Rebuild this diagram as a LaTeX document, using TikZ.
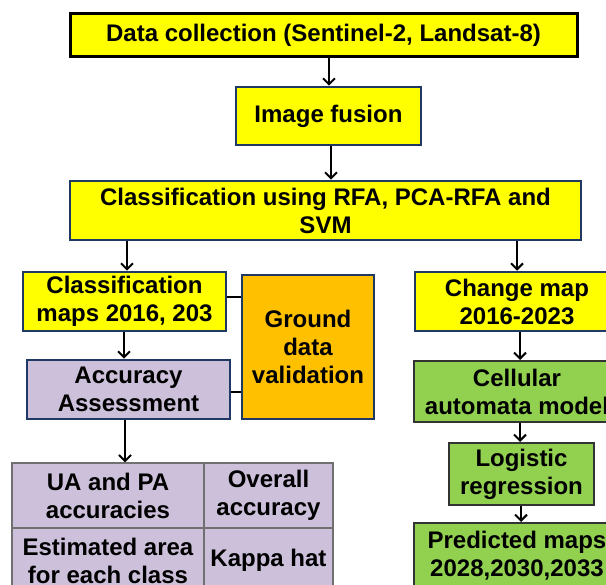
\documentclass[tikz,border=0pt]{standalone}
\usepackage{fontspec}
\setmainfont{Liberation Sans}
\usetikzlibrary{arrows.meta}

\definecolor{boxyellow}{HTML}{FFFF00}
\definecolor{boxnavy}{HTML}{1F3864}
\definecolor{boxorange}{HTML}{FFC000}
\definecolor{boxlilac}{HTML}{CCC0DA}
\definecolor{boxgreen}{HTML}{92D050}
\definecolor{cellgray}{HTML}{707070}

\tikzset{
  txt/.style={align=center, inner sep=0pt, font=\bfseries\fontsize{24}{28}\selectfont},
  ybox/.style={txt, draw=boxnavy, line width=2.5pt, fill=boxyellow},
  gbox/.style={txt, draw=black!80, line width=2pt, fill=boxgreen},
  cellbox/.style={txt, draw=cellgray, line width=1.2pt, fill=boxlilac},
  arr/.style={line width=2pt, -{Straight Barb[length=6pt,width=12pt,line width=2pt]}},
  link/.style={line width=2pt}
}

\begin{document}
\begin{tikzpicture}[x=1pt, y=-1pt]
    \clip (0,0) rectangle (606,585);
    \fill[white] (0,0) rectangle (606,585);

    % Top chain
    \node[ybox, draw=black, line width=3pt, minimum width=507pt, minimum height=43pt] (data) at (323.5,35.5) {Data collection (Sentinel-2, Landsat-8)};
    \node[ybox, minimum width=185pt, minimum height=58pt] (fusion) at (328.5,116) {Image fusion};
    \node[ybox, minimum width=511pt, minimum height=59pt] (classif) at (325.5,210.5) {Classification using RFA, PCA-RFA and\\SVM};

    % Left branch
    \node[ybox, minimum width=203pt, minimum height=59pt] (maps) at (124.5,301.5) {Classification\\maps 2016, 203};
    \node[ybox, fill=boxorange, minimum width=132pt, minimum height=144pt] (ground) at (308,347) {Ground\\data\\validation};
    \node[ybox, fill=boxlilac, minimum width=203pt, minimum height=59pt] (accur) at (128.5,389.5) {Accuracy\\Assessment};

    % Accuracy table
    \node[cellbox, minimum width=192pt, minimum height=65pt] (uapa) at (108,495.5) {UA and PA\\accuracies};
    \node[cellbox, minimum width=129pt, minimum height=65pt] (overall) at (268.5,495.5) {Overall\\accuracy};
    \node[cellbox, minimum width=192pt, minimum height=65pt] (area) at (108,560.5) {Estimated area\\for each class};
    \node[cellbox, minimum width=129pt, minimum height=65pt] (kappa) at (268.5,560.5) {Kappa hat};

    % Right branch
    \node[ybox, minimum width=204pt, minimum height=59pt] (change) at (517,301.5) {Change map\\2016-2023};
    \node[gbox, minimum width=206pt, minimum height=61pt] (cell) at (517,391.5) {Cellular\\automata model};
    \node[gbox, minimum width=145pt, minimum height=62pt] (logit) at (521.5,474) {Logistic\\regression};
    \node[gbox, minimum width=206pt, minimum height=66pt] (pred) at (517,556) {Predicted maps\\2028,2030,2033};

    % Arrows
    \draw[arr] (data.south -| 329,0) -- (fusion.north -| 329,0);
    \draw[arr] (fusion.south -| 331,0) -- (classif.north -| 331,0);
    \draw[arr] (classif.south -| 127,0) -- (maps.north -| 127,0);
    \draw[arr] (classif.south -| 517,0) -- (change.north -| 517,0);
    \draw[arr] (maps.south -| 124,0) -- (accur.north -| 124,0);
    \draw[arr] (accur.south -| 125,0) -- (uapa.north -| 125,0);
    \draw[arr] (change.south -| 520,0) -- (cell.north -| 520,0);
    \draw[arr] (cell.south -| 520,0) -- (logit.north -| 520,0);
    \draw[arr] (logit.south -| 521,0) -- (pred.north -| 521,0);

    % Links to ground data
    \draw[link] (maps.east |- 0,297) -- (ground.west |- 0,297);
    \draw[link] (accur.east |- 0,392) -- (ground.west |- 0,392);
\end{tikzpicture}
\end{document}
